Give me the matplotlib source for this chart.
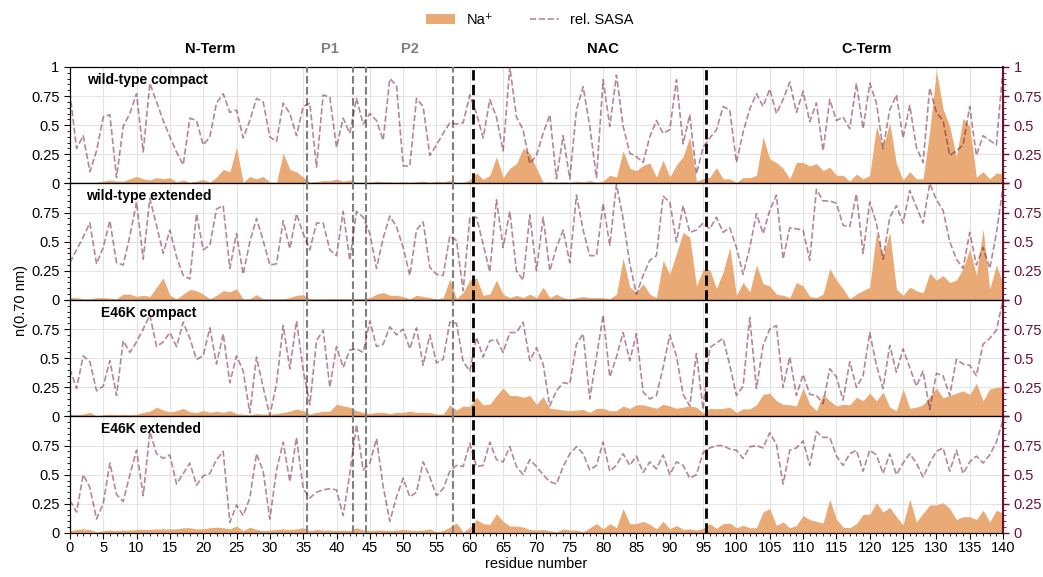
import numpy as np
import matplotlib.pyplot as plt
from matplotlib.ticker import MultipleLocator, FuncFormatter
from matplotlib.patches import Patch
from matplotlib.lines import Line2D

plt.rcParams['font.family'] = ['Liberation Sans', 'DejaVu Sans']

residues = np.arange(141)

titles = ['wild-type compact', 'wild-type extended', 'E46K compact', 'E46K extended']

na_wt_compact = [
    0.01, 0.01, 0.01, 0.01, 0.01, 0.02, 0.03, 0.02, 0.02, 0.04,
    0.06, 0.04, 0.03, 0.05, 0.04, 0.05, 0.015, 0.03, 0.01, 0.02,
    0.035, 0.01, 0.055, 0.12, 0.10, 0.31, 0.01, 0.06, 0.04, 0.06,
    0.01, 0.01, 0.26, 0.12, 0.10, 0.055, 0.01, 0.015, 0.025, 0.023,
    0.037, 0.02, 0.03, 0.01, 0.01, 0.01, 0.02, 0.015, 0.015, 0.01,
    0.015, 0.01, 0.015, 0.02, 0.01, 0.02, 0.015, 0.025, 0.01, 0.01,
    0.03, 0.09, 0.035, 0.07, 0.23, 0.05, 0.13, 0.17, 0.30, 0.26,
    0.13, 0.01, 0.015, 0.01, 0.015, 0.01, 0.02, 0.015, 0.025, 0.01,
    0.02, 0.07, 0.055, 0.28, 0.13, 0.11, 0.155, 0.175, 0.055, 0.20,
    0.055, 0.16, 0.23, 0.40, 0.02, 0.04, 0.055, 0.135, 0.04, 0.04,
    0.01, 0.05, 0.05, 0.07, 0.40, 0.21, 0.18, 0.13, 0.04, 0.18,
    0.18, 0.15, 0.17, 0.11, 0.14, 0.07, 0.07, 0.02, 0.08, 0.04,
    0.07, 0.49, 0.31, 0.52, 0.17, 0.03, 0.10, 0.04, 0.04, 0.45,
    0.97, 0.64, 0.49, 0.23, 0.56, 0.49, 0.055, 0.10, 0.04, 0.09, 0.08]

sasa_wt_compact = [
    0.78, 0.30, 0.41, 0.10, 0.28, 0.57, 0.59, 0.05, 0.49, 0.60,
    0.77, 0.27, 0.86, 0.70, 0.54, 0.40, 0.27, 0.16, 0.56, 0.54,
    0.33, 0.40, 0.69, 0.77, 0.61, 0.63, 0.39, 0.54, 0.73, 0.70,
    0.40, 0.36, 0.69, 0.60, 0.41, 0.66, 0.69, 0.14, 0.76, 0.74,
    0.31, 0.56, 0.43, 0.73, 0.51, 0.60, 0.54, 0.37, 0.90, 0.84,
    0.15, 0.15, 0.73, 0.66, 0.24, 0.33, 0.43, 0.52, 0.51, 0.52,
    0.76, 0.60, 0.39, 0.72, 0.57, 0.28, 1.00, 0.57, 0.46, 0.17,
    0.24, 0.43, 0.59, 0.04, 0.41, 0.04, 0.63, 0.83, 0.49, 0.05,
    0.89, 0.49, 0.93, 0.49, 0.26, 0.23, 0.18, 0.40, 0.54, 0.43,
    0.46, 0.89, 0.34, 0.59, 0.08, 0.31, 0.39, 0.46, 0.66, 0.63,
    0.18, 0.44, 0.64, 0.77, 0.66, 0.81, 0.60, 0.72, 0.87, 0.61,
    0.79, 0.53, 0.69, 0.28, 0.72, 0.54, 0.57, 0.47, 0.86, 0.47,
    0.86, 0.69, 0.30, 0.63, 0.76, 0.39, 0.67, 0.31, 0.18, 0.82,
    0.61, 0.54, 0.24, 0.28, 0.33, 0.66, 0.24, 0.41, 0.37, 0.33, 0.99]

na_wt_extended = [
    0.02, 0.02, 0.01, 0.01, 0.02, 0.02, 0.015, 0.01, 0.05, 0.05,
    0.03, 0.04, 0.03, 0.11, 0.19, 0.04, 0.01, 0.05, 0.09, 0.08,
    0.05, 0.01, 0.04, 0.08, 0.07, 0.095, 0.01, 0.01, 0.045, 0.01,
    0.01, 0.01, 0.01, 0.02, 0.04, 0.045, 0.01, 0.01, 0.01, 0.012,
    0.012, 0.012, 0.012, 0.01, 0.012, 0.02, 0.05, 0.065, 0.04, 0.04,
    0.03, 0.01, 0.04, 0.03, 0.02, 0.01, 0.02, 0.18, 0.01, 0.065,
    0.17, 0.19, 0.04, 0.05, 0.17, 0.05, 0.02, 0.04, 0.02, 0.05,
    0.02, 0.11, 0.02, 0.05, 0.02, 0.01, 0.02, 0.03, 0.02, 0.02,
    0.02, 0.01, 0.05, 0.36, 0.11, 0.065, 0.14, 0.05, 0.02, 0.34,
    0.22, 0.40, 0.58, 0.54, 0.12, 0.26, 0.26, 0.10, 0.24, 0.45,
    0.04, 0.15, 0.07, 0.30, 0.14, 0.12, 0.05, 0.04, 0.02, 0.15,
    0.12, 0.03, 0.02, 0.05, 0.27, 0.17, 0.095, 0.01, 0.05, 0.08,
    0.11, 0.58, 0.38, 0.58, 0.095, 0.04, 0.11, 0.08, 0.06, 0.23,
    0.17, 0.21, 0.15, 0.17, 0.27, 0.44, 0.21, 0.61, 0.095, 0.30, 0.14]

sasa_wt_extended = [
    0.32, 0.43, 0.54, 0.66, 0.31, 0.45, 0.68, 0.32, 0.30, 0.55,
    0.84, 0.35, 0.87, 0.64, 0.40, 0.60, 0.37, 0.21, 0.18, 0.74,
    0.43, 0.47, 0.78, 0.81, 0.27, 0.57, 0.22, 0.50, 0.70, 0.51,
    0.30, 0.31, 0.68, 0.44, 0.74, 0.57, 0.43, 0.66, 0.66, 0.43,
    0.38, 0.76, 0.34, 0.76, 0.71, 0.57, 0.27, 0.53, 0.72, 0.63,
    0.45, 0.21, 0.60, 0.67, 0.28, 0.22, 0.21, 0.55, 0.51, 0.08,
    0.71, 0.71, 0.48, 0.24, 0.86, 0.45, 0.76, 0.25, 0.17, 0.73,
    0.25, 0.71, 0.25, 0.45, 0.60, 0.32, 0.90, 0.60, 0.38, 0.38,
    0.83, 0.47, 0.99, 0.70, 0.31, 0.05, 0.21, 0.34, 0.38, 0.89,
    0.84, 0.50, 0.81, 0.58, 0.60, 0.66, 0.61, 0.71, 0.58, 0.62,
    0.45, 0.22, 0.45, 0.74, 0.57, 0.77, 0.90, 0.35, 0.62, 0.61,
    0.60, 0.34, 0.95, 0.85, 0.85, 0.83, 0.64, 0.63, 0.91, 0.40,
    0.84, 0.66, 0.35, 0.71, 0.81, 0.66, 0.94, 0.80, 0.66, 1.00,
    0.86, 0.77, 0.50, 0.35, 0.27, 0.58, 0.30, 0.45, 0.27, 0.57, 0.97]

na_e46k_compact = [
    0.02, 0.015, 0.02, 0.035, 0.006, 0.015, 0.02, 0.015, 0.02, 0.015,
    0.02, 0.035, 0.045, 0.08, 0.055, 0.04, 0.05, 0.07, 0.04, 0.035,
    0.05, 0.035, 0.045, 0.035, 0.05, 0.025, 0.02, 0.015, 0.025, 0.02,
    0.02, 0.025, 0.035, 0.045, 0.065, 0.05, 0.02, 0.035, 0.045, 0.045,
    0.105, 0.09, 0.08, 0.05, 0.035, 0.025, 0.035, 0.035, 0.025, 0.035,
    0.035, 0.045, 0.035, 0.035, 0.035, 0.02, 0.02, 0.10, 0.055, 0.09,
    0.085, 0.165, 0.10, 0.105, 0.18, 0.245, 0.18, 0.18, 0.165, 0.18,
    0.105, 0.17, 0.07, 0.065, 0.055, 0.05, 0.055, 0.06, 0.035, 0.07,
    0.07, 0.05, 0.05, 0.09, 0.07, 0.10, 0.10, 0.085, 0.07, 0.105,
    0.09, 0.07, 0.08, 0.09, 0.08, 0.03, 0.07, 0.065, 0.07, 0.08,
    0.035, 0.065, 0.065, 0.10, 0.19, 0.20, 0.135, 0.105, 0.10, 0.09,
    0.245, 0.105, 0.05, 0.19, 0.135, 0.09, 0.105, 0.10, 0.165, 0.135,
    0.20, 0.135, 0.21, 0.08, 0.05, 0.235, 0.07, 0.08, 0.10, 0.17,
    0.245, 0.16, 0.18, 0.20, 0.22, 0.19, 0.285, 0.135, 0.235, 0.25, 0.255]

sasa_e46k_compact = [
    0.41, 0.24, 0.52, 0.47, 0.22, 0.26, 0.48, 0.18, 0.65, 0.55,
    0.64, 0.75, 0.87, 0.60, 0.64, 0.72, 0.60, 0.81, 0.67, 0.49,
    0.52, 0.76, 0.45, 0.71, 0.29, 0.52, 0.39, 0.03, 0.51, 0.25,
    0.01, 0.28, 0.78, 0.41, 0.82, 0.40, 0.10, 0.65, 0.74, 0.25,
    0.60, 0.42, 0.57, 0.58, 0.55, 0.82, 0.60, 0.62, 0.77, 0.70,
    0.75, 0.58, 0.76, 0.44, 0.70, 0.46, 0.49, 0.81, 0.80, 0.47,
    0.39, 0.68, 0.51, 0.65, 0.66, 0.55, 0.72, 0.72, 0.81, 0.48,
    0.59, 0.45, 0.09, 0.22, 0.29, 0.28, 0.62, 0.71, 0.15, 0.51,
    0.87, 0.34, 0.51, 0.72, 0.48, 0.71, 0.21, 0.15, 0.18, 0.42,
    0.70, 0.52, 0.19, 0.09, 0.54, 0.06, 0.59, 0.63, 0.67, 0.44,
    0.18, 0.26, 0.85, 0.24, 0.61, 0.75, 0.78, 0.25, 0.51, 0.18,
    0.36, 0.19, 0.18, 0.11, 0.41, 0.34, 0.14, 0.47, 0.25, 0.35,
    0.72, 0.44, 0.24, 0.61, 0.38, 0.58, 0.42, 0.26, 0.39, 0.06,
    0.37, 0.35, 0.18, 0.49, 0.45, 0.44, 0.35, 0.62, 0.67, 0.74, 1.00]

na_e46k_extended = [
    0.02, 0.03, 0.035, 0.03, 0.01, 0.02, 0.025, 0.02, 0.025, 0.025,
    0.03, 0.03, 0.03, 0.035, 0.035, 0.035, 0.035, 0.045, 0.045, 0.035,
    0.035, 0.045, 0.05, 0.045, 0.035, 0.06, 0.02, 0.05, 0.03, 0.02,
    0.025, 0.03, 0.035, 0.03, 0.035, 0.045, 0.02, 0.03, 0.025, 0.025,
    0.02, 0.025, 0.02, 0.045, 0.025, 0.02, 0.025, 0.025, 0.02, 0.025,
    0.03, 0.025, 0.02, 0.025, 0.035, 0.01, 0.02, 0.05, 0.085, 0.01,
    0.045, 0.115, 0.08, 0.075, 0.165, 0.10, 0.06, 0.06, 0.05, 0.03,
    0.025, 0.03, 0.02, 0.01, 0.035, 0.025, 0.025, 0.01, 0.045, 0.08,
    0.035, 0.08, 0.045, 0.21, 0.08, 0.08, 0.10, 0.075, 0.035, 0.10,
    0.035, 0.065, 0.03, 0.035, 0.025, 0.04, 0.08, 0.04, 0.08, 0.085,
    0.045, 0.065, 0.045, 0.045, 0.18, 0.21, 0.065, 0.095, 0.045, 0.065,
    0.15, 0.115, 0.10, 0.085, 0.29, 0.12, 0.05, 0.045, 0.08, 0.16,
    0.16, 0.26, 0.18, 0.22, 0.14, 0.07, 0.29, 0.095, 0.17, 0.24,
    0.24, 0.26, 0.21, 0.115, 0.14, 0.14, 0.115, 0.195, 0.095, 0.195, 0.17]

sasa_e46k_extended = [
    0.28, 0.18, 0.50, 0.39, 0.12, 0.25, 0.60, 0.33, 0.27, 0.50,
    0.71, 0.32, 0.87, 0.68, 0.64, 0.67, 0.42, 0.51, 0.60, 0.41,
    0.49, 0.51, 0.63, 0.70, 0.09, 0.24, 0.15, 0.30, 0.68, 0.53,
    0.12, 0.54, 0.78, 0.44, 0.82, 0.38, 0.30, 0.35, 0.37, 0.38,
    0.37, 0.15, 0.51, 0.93, 0.54, 0.60, 0.81, 0.40, 0.10, 0.31,
    0.47, 0.31, 0.35, 0.61, 0.48, 0.32, 0.38, 0.53, 0.58, 0.57,
    0.77, 0.57, 0.58, 0.78, 0.63, 0.61, 0.74, 0.57, 0.50, 0.63,
    0.57, 0.50, 0.44, 0.42, 0.57, 0.68, 0.74, 0.68, 0.54, 0.58,
    0.78, 0.53, 0.58, 0.68, 0.58, 0.66, 0.52, 0.61, 0.55, 0.67,
    0.50, 0.61, 0.58, 0.47, 0.50, 0.69, 0.73, 0.75, 0.75, 0.72,
    0.71, 0.64, 0.74, 0.75, 0.73, 0.86, 0.76, 0.42, 0.71, 0.73,
    0.79, 0.58, 0.87, 0.82, 0.82, 0.66, 0.58, 0.68, 0.71, 0.53,
    0.71, 0.67, 0.51, 0.68, 0.50, 0.60, 0.68, 0.60, 0.48, 0.60,
    0.70, 0.73, 0.53, 0.71, 0.51, 0.61, 0.66, 0.60, 0.67, 0.78, 0.97]

na_all = [na_wt_compact, na_wt_extended, na_e46k_compact, na_e46k_extended]
sasa_all = [sasa_wt_compact, sasa_wt_extended, sasa_e46k_compact, sasa_e46k_extended]

# region borders and labels
gray_borders = [35.5, 42.5, 44.5, 57.5]
black_borders = [60.5, 95.5]
region_names = ['N-Term', 'P1', 'P2', 'NAC', 'C-Term']
region_pos = [21.0, 39.0, 51.0, 80.0, 119.5]
region_colors = ['black', 'gray', 'gray', 'black', 'black']

na_color = '#EAAA76'
sasa_color = '#6E1030'
fmt_top = FuncFormatter(lambda v, p: '%g' % v)
# lower panels: drop the "1" so it does not collide with the "0" above
fmt_low = FuncFormatter(lambda v, p: '' if v > 0.99 else '%g' % v)

fig, axes = plt.subplots(4, 1, sharex=True, figsize=(10.43, 5.77), dpi=100)
fig.subplots_adjust(left=0.067, right=0.9617, top=0.884, bottom=0.0763, hspace=0)

title_x = [0.018, 0.017, 0.033, 0.033]
for i, ax in enumerate(axes):
    fmt = fmt_top if i == 0 else fmt_low
    ax.fill_between(residues, 0, na_all[i], color=na_color, lw=0, zorder=2)
    ax.set_xlim(0, 140)
    ax.set_ylim(0, 1)
    ax.yaxis.set_major_locator(MultipleLocator(0.25))
    ax.yaxis.set_minor_locator(MultipleLocator(0.05))
    ax.xaxis.set_major_locator(MultipleLocator(5))
    ax.xaxis.set_minor_locator(MultipleLocator(1))
    ax.yaxis.set_major_formatter(fmt)
    ax.grid(True, which='major', color='#e3e3e3', lw=0.8, zorder=0)
    ax.set_axisbelow(True)
    ax.tick_params(axis='both', which='major', labelsize=10.5, length=4)
    ax.tick_params(axis='both', which='minor', length=2)
    ax.tick_params(axis='x', pad=2)
    ax.text(title_x[i], 0.89, titles[i], transform=ax.transAxes,
            fontsize=10, fontweight='bold', va='center')

    tw = ax.twinx()
    tw.set_ylim(0, 1)
    tw.yaxis.set_major_locator(MultipleLocator(0.25))
    tw.yaxis.set_minor_locator(MultipleLocator(0.05))
    tw.yaxis.set_major_formatter(fmt)
    tw.tick_params(axis='y', which='major', labelsize=10.5, length=4,
                   colors=sasa_color, width=1)
    tw.tick_params(axis='y', which='minor', length=2, colors=sasa_color)
    tw.spines['right'].set_color(sasa_color)
    tw.spines['right'].set_linewidth(1.5)
    for xb in gray_borders:
        tw.axvline(xb, color='gray', ls='--', lw=1.5, zorder=3)
    for xb in black_borders:
        tw.axvline(xb, color='black', ls='--', lw=2, zorder=3)
    tw.plot(residues, sasa_all[i], color=sasa_color, alpha=0.5,
            ls='--', lw=1.2, zorder=4)

axes[-1].set_xlabel('residue number', fontsize=10.5, labelpad=1)
fig.text(0.02, 0.48, 'n(0.70 nm)', rotation=90, va='center', ha='center', fontsize=10.5)

for name, xp, c in zip(region_names, region_pos, region_colors):
    axes[0].text(xp, 1.155, name, transform=axes[0].get_xaxis_transform(),
                 ha='center', va='center', fontsize=10.5, fontweight='bold', color=c)

handles = [Patch(facecolor=na_color, label='Na\u207a'),
           Line2D([0], [0], color=sasa_color, alpha=0.5, ls='--', lw=1.2, label='rel. SASA')]
fig.legend(handles=handles, loc='upper center', bbox_to_anchor=(0.508, 1.0),
           ncol=2, frameon=False, fontsize=10.5, columnspacing=2.5)

fig.savefig('out.png', dpi=100)
